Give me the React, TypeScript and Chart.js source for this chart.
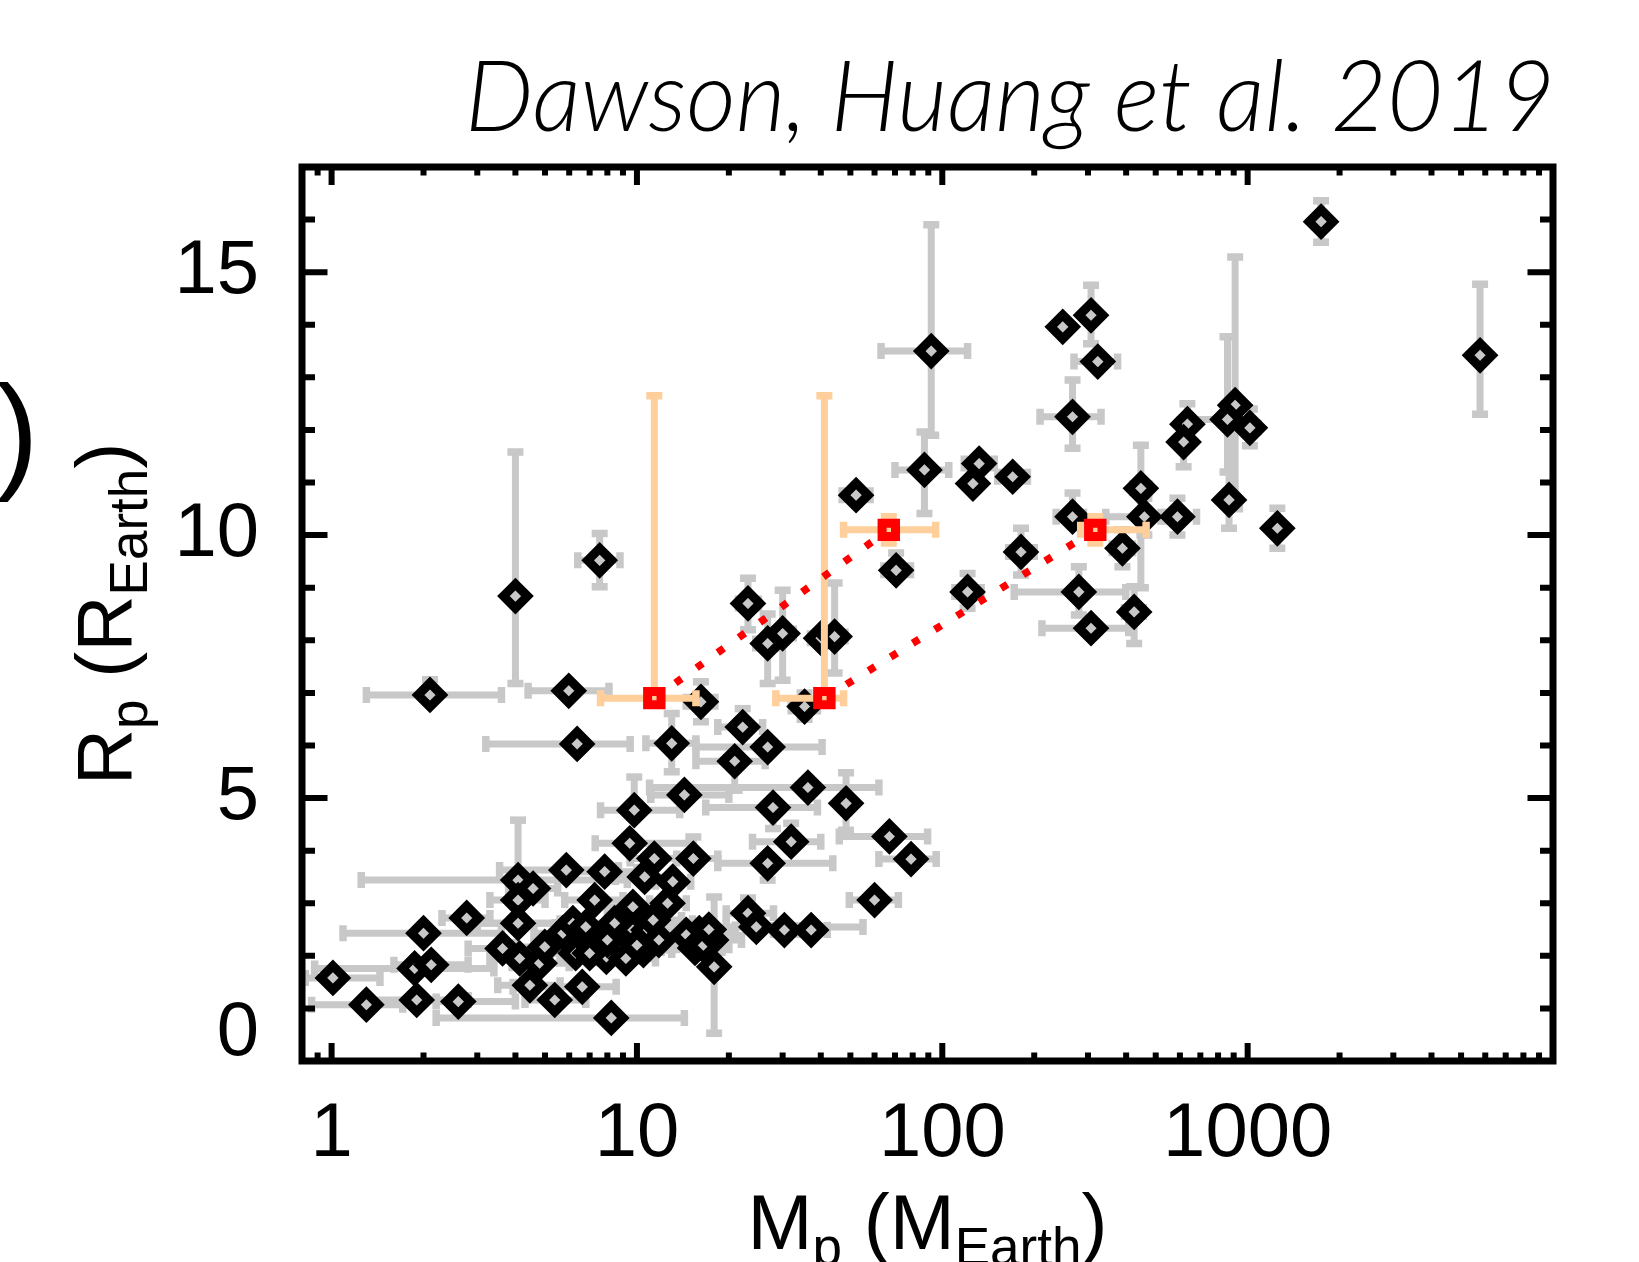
import React, { useEffect, useRef } from 'react';
import { Chart, registerables } from 'chart.js';

Chart.register(...registerables);

// ---- planet sample: mass (M_Earth), radius (R_Earth), error bar ends ----
const massVals = [1740, 5770, 92, 248, 307, 323, 267, 87.4, 132, 126, 170, 52.2, 70.6, 121, 181, 267, 280, 307, 389, 425, 447, 459, 589, 635, 617, 910, 859, 1017, 869, 1251,
  7.55, 4.0, 23.1, 26.8, 30.0, 40.1, 44.4, 35.4, 2.1, 5.98, 6.37, 16.2, 13.0, 22.2, 20.9, 26.8, 14.3, 36.3, 9.8, 27.9, 48.4, 67.1, 79.0, 32.0, 26.8, 15.3, 9.47, 60, 23.1, 24.6, 30.4, 37.2, 13.1, 12.6, 17.9, 16.0, 17.5, 14.5, 15.5, 8.24,
  1.01, 1.30, 1.90, 2.0, 1.87, 2.12, 2.6, 2.77, 4.08, 4.57, 4.08, 4.08, 3.63, 4.13, 4.46, 4.8, 4.99, 5.38, 5.72, 5.87, 6.62, 6.17, 7.27, 7.84, 11.4, 10.6, 9.7, 6.58, 7.18, 7.94, 8.45, 8.89, 9.70, 10.9, 11.3, 10.5, 6.3,
  7.0, 8.0, 9.2, 10.0, 6.8, 11.8, 16.5, 17.2];
const radiusVals = [15.96, 13.42, 13.5, 13.96, 14.18, 13.30, 12.25, 11.24, 11.36, 10.98, 11.11, 10.76, 9.33, 8.92, 9.68, 10.35, 8.92, 8.23, 9.75, 8.54, 10.89, 10.35, 10.35, 12.11, 11.77, 12.47, 12.20, 12.04, 10.67, 10.13,
  9.52, 8.84, 8.70, 7.94, 8.13, 8.04, 8.07, 6.74, 6.96, 7.04, 6.03, 6.83, 6.04, 6.35, 5.70, 5.97, 5.06, 5.20, 4.77, 4.82, 4.90, 4.27, 3.84, 4.17, 3.76, 3.85, 4.14, 3.06, 2.81, 2.55, 2.49, 2.49, 3.41, 3.00, 1.79, 2.43, 2.30, 2.40, 2.15, 0.82,
  1.58, 1.07, 1.16, 2.43, 1.76, 1.83, 1.13, 2.72, 3.44, 3.28, 3.06, 2.62, 2.14, 1.95, 1.44, 1.86, 2.17, 1.16, 2.43, 3.63, 1.41, 2.62, 3.06, 3.60, 3.85, 3.50, 2.93, 2.30, 2.40, 1.98, 2.62, 2.24, 2.49, 2.49, 2.68, 2.11, 2.05,
  2.05, 2.30, 1.95, 2.20, 2.55, 2.30, 2.20, 2.50];
const massLo = [1740, 5770, 63, 248, 307, 270, 209, 70, 118, 126, 152, 47, 64.4, 110, 165, 236, 172, 212, 360, 395, 420, 343, 540, 600, 590, 860, 640, 960, 869, 1251,
  6.4, 4.0, 21.5, 24.5, 27.5, 37, 41, 32, 1.30, 4.4, 3.2, 14.5, 10.7, 18.4, 15.6, 15.6, 11.1, 11, 7.6, 16.8, 48.4, 46, 62, 23.9, 18.4, 11.5, 7.3, 49.6, 19.6, 19.6, 28, 33, 11.5, 11, 17.9, 12, 14, 11, 12, 2.2,
  0.82, 0.86, 1.3, 1.09, 0.88, 1.6, 2.2, 2.3, 1.25, 3.8, 3.3, 3.0, 2.8, 3.3, 3.5, 3.9, 4.0, 4.3, 4.6, 3.55, 3.93, 2.73, 5.8, 6.2, 9.5, 8.5, 8.0, 5.3, 5.8, 6.3, 6.8, 7.0, 7.7, 8.7, 9.0, 8.4, 5.0,
  5.6, 6.4, 7.4, 8.0, 5.4, 9.5, 13.5, 14];
const massHi = [1740, 5770, 121, 248, 307, 375, 331, 105, 148, 126, 190, 58, 78.7, 134, 200, 290, 399, 408, 420, 455, 475, 520, 680, 670, 650, 960, 900, 1080, 869, 1251,
  8.8, 4.0, 25, 29, 32.5, 43, 48, 39, 3.60, 8.1, 9.5, 18, 15.6, 25.8, 26.3, 40.4, 20, 62, 13.8, 39.0, 48.4, 89.5, 95.5, 40.0, 43.8, 18.4, 15.2, 71.8, 28, 55, 34, 42, 15, 14.5, 17.9, 21, 22, 19, 19, 14.3,
  1.44, 1.71, 2.8, 3.6, 3.4, 2.8, 4.0, 3.3, 9.3, 5.5, 5.0, 5.6, 4.6, 5.2, 5.6, 6.0, 6.3, 6.8, 7.2, 8.7, 8.55, 15.2, 9.0, 10, 13.5, 13.0, 12.0, 8.2, 9.0, 10.0, 10.5, 11.2, 12.2, 13.5, 14, 13, 7.9,
  8.8, 10.0, 11.5, 12.5, 8.5, 14.5, 20, 21];
const radLo = [15.57, 12.3, 11.9, 13.96, 13.64, 13.30, 11.65, 10.41, 11.36, 10.98, 11.11, 10.76, 9.33, 8.61, 9.24, 10.35, 8.48, 8.23, 9.40, 7.94, 9.0, 10.0, 10.0, 11.7, 11.3, 10.5, 11.2, 11.7, 10.13, 9.75,
  9.02, 7.18, 8.2, 7.18, 7.24, 8.04, 7.38, 6.5, 6.96, 7.04, 6.03, 6.45, 5.50, 6.35, 5.15, 5.97, 5.06, 5.20, 4.77, 4.42, 4.39, 4.27, 3.84, 4.17, 3.44, 3.85, 4.14, 3.06, 2.81, 2.55, 2.49, 2.49, 3.41, 3.00, 0.53, 2.43, 2.30, 2.40, 2.15, 0.82,
  1.58, 1.07, 1.16, 2.43, 1.76, 1.83, 1.13, 2.72, 3.44, 3.28, 3.06, 2.62, 2.14, 1.95, 1.44, 1.86, 2.17, 1.16, 2.43, 3.63, 1.41, 2.62, 3.06, 3.60, 3.85, 3.50, 2.93, 2.30, 2.40, 1.98, 2.62, 2.24, 2.49, 2.49, 2.68, 2.11, 2.05,
  2.05, 2.30, 1.95, 2.20, 2.55, 2.30, 2.20, 2.50];
const radHi = [16.36, 14.77, 15.9, 13.96, 14.75, 13.30, 12.95, 11.96, 11.36, 10.98, 11.11, 10.76, 9.66, 9.27, 10.13, 10.80, 9.40, 8.23, 10.10, 9.02, 11.71, 10.7, 10.7, 12.5, 12.1, 15.29, 13.77, 12.4, 12.5, 10.51,
  10.03, 11.58, 9.18, 8.5, 8.95, 8.04, 9.09, 7.0, 7.25, 7.04, 6.03, 7.21, 6.61, 6.70, 5.70, 5.97, 5.06, 5.20, 5.4, 4.82, 5.48, 4.27, 3.84, 4.52, 3.76, 4.26, 4.14, 3.06, 3.1, 2.55, 2.49, 2.49, 3.41, 3.00, 3.12, 2.43, 2.30, 2.40, 2.15, 0.82,
  1.58, 1.07, 1.16, 2.43, 1.76, 1.83, 1.13, 2.72, 4.58, 3.28, 3.06, 2.62, 2.14, 1.95, 1.44, 1.86, 2.17, 1.16, 2.43, 3.63, 1.41, 2.62, 3.06, 3.60, 3.85, 3.50, 2.93, 2.30, 2.40, 1.98, 2.62, 2.24, 2.49, 2.49, 2.68, 2.11, 2.05,
  2.05, 2.30, 1.95, 2.20, 2.55, 2.30, 2.20, 2.50];

// ---- highlighted candidates (red squares with peach error bars) ----
const candMass = [11.4, 41.1, 66.8, 317];
const candRadius = [6.9, 6.9, 10.1, 10.1];
const candMassLo = [7.6, 28.5, 47.5, 284];
const candMassHi = [15.6, 47.5, 95.1, 465];
const candRadLo = [6.9, 6.9, 9.85, 9.85];
const candRadHi = [12.65, 12.65, 10.35, 10.35];

// ---- dotted tracks joining candidates ----
const trackAMass = [11.4, 66.8];
const trackARadius = [6.9, 10.1];
const trackBMass = [41.1, 317];
const trackBRadius = [6.9, 10.1];

// ---- axes ----
const xMin = 0.8;
const xMax = 10000;
const yMin = 0;
const yMax = 17;
const xTickVals = [1, 10, 100, 1000];
const yTickVals = [0, 5, 10, 15];

const titleText = 'Dawson, Huang et al. 2019';
const GRAY = '#c8c8c8';
const PEACH = '#fecf9a';
const FONT = '"Liberation Sans", Arial, Helvetica, sans-serif';

function drawBars(ctx: CanvasRenderingContext2D, xs: any, ys: any, m: number[], r: number[], mlo: number[], mhi: number[], rlo: number[], rhi: number[], color: string) {
  ctx.strokeStyle = color;
  ctx.lineCap = 'butt';
  const cap = 8;
  for (let i = 0; i < m.length; i++) {
    const px = xs.getPixelForValue(m[i]);
    const py = ys.getPixelForValue(r[i]);
    if (mlo[i] !== mhi[i]) {
      const x1 = xs.getPixelForValue(mlo[i]);
      const x2 = xs.getPixelForValue(mhi[i]);
      ctx.lineWidth = 7;
      ctx.beginPath(); ctx.moveTo(x1, py); ctx.lineTo(x2, py); ctx.stroke();
      ctx.lineWidth = 7.5;
      ctx.beginPath();
      ctx.moveTo(x1, py - cap); ctx.lineTo(x1, py + cap);
      ctx.moveTo(x2, py - cap); ctx.lineTo(x2, py + cap);
      ctx.stroke();
    }
    if (rlo[i] !== rhi[i]) {
      const y1 = ys.getPixelForValue(rlo[i]);
      const y2 = ys.getPixelForValue(rhi[i]);
      ctx.lineWidth = 7;
      ctx.beginPath(); ctx.moveTo(px, y1); ctx.lineTo(px, y2); ctx.stroke();
      ctx.lineWidth = 7.5;
      ctx.beginPath();
      if (rlo[i] !== r[i]) { ctx.moveTo(px - cap, y1); ctx.lineTo(px + cap, y1); }
      if (rhi[i] !== r[i]) { ctx.moveTo(px - cap, y2); ctx.lineTo(px + cap, y2); }
      ctx.stroke();
    }
  }
}

function drawRich(ctx: CanvasRenderingContext2D, parts: [string, boolean][], cx: number, baseY: number, main: number) {
  const sub = main * 0.68;
  const widths = parts.map(([t, s]) => {
    ctx.font = `${s ? sub : main}px ${FONT}`;
    return ctx.measureText(t).width;
  });
  const total = widths.reduce((a, b) => a + b, 0);
  let x = cx - total / 2;
  ctx.textAlign = 'left';
  ctx.textBaseline = 'alphabetic';
  parts.forEach(([t, s], i) => {
    ctx.font = `${s ? sub : main}px ${FONT}`;
    ctx.fillText(t, x, baseY + (s ? main * 0.2 : 0));
    x += widths[i];
  });
}

const framePlugin = {
  id: 'frameAndBars',
  beforeDatasetsDraw(chart: any) {
    const { ctx, chartArea: a, scales } = chart;
    ctx.save();
    ctx.beginPath();
    ctx.rect(a.left, a.top, a.right - a.left, a.bottom - a.top);
    ctx.clip();
    drawBars(ctx, scales.x, scales.y, massVals, radiusVals, massLo, massHi, radLo, radHi, GRAY);
    ctx.restore();
  },
  afterDatasetDraw(chart: any, args: any) {
    if (args.index !== 0) return;
    const { ctx, scales } = chart;
    ctx.save();
    drawBars(ctx, scales.x, scales.y, candMass, candRadius, candMassLo, candMassHi, candRadLo, candRadHi, PEACH);
    ctx.restore();
  },
  afterDraw(chart: any) {
    const { ctx, chartArea: a, scales } = chart;
    const xs = scales.x, ys = scales.y;
    ctx.save();
    ctx.strokeStyle = '#000';
    ctx.lineCap = 'butt';
    // inward ticks
    ctx.lineWidth = 6;
    ctx.beginPath();
    for (let d = -1; d <= 3; d++) {
      for (let k = 1; k <= 9; k++) {
        const v = k * Math.pow(10, d);
        if (v <= xMin || v >= xMax) continue;
        const px = xs.getPixelForValue(v);
        const L = k === 1 ? 18 : 8.5;
        ctx.moveTo(px, a.bottom); ctx.lineTo(px, a.bottom - L);
        ctx.moveTo(px, a.top); ctx.lineTo(px, a.top + L);
      }
    }
    for (let v = yMin + 1; v < yMax; v++) {
      const py = ys.getPixelForValue(v);
      const L = v % 5 === 0 ? 25.5 : 13;
      ctx.moveTo(a.left, py); ctx.lineTo(a.left + L, py);
      ctx.moveTo(a.right, py); ctx.lineTo(a.right - L, py);
    }
    ctx.stroke();
    // frame
    ctx.lineWidth = 7;
    ctx.strokeRect(a.left, a.top, a.right - a.left, a.bottom - a.top);

    // axis titles
    ctx.fillStyle = '#000';
    const cx = (a.left + a.right) / 2;
    drawRich(ctx, [['M', false], ['p', true], [' (M', false], ['Earth', true], [')', false]], cx, 1249, 78);
    const cy = (a.top + a.bottom) / 2;
    ctx.save();
    ctx.translate(131, cy);
    ctx.rotate(-Math.PI / 2);
    drawRich(ctx, [['R', false], ['p', true], [' (R', false], ['Earth', true], [')', false]], 0, 0, 78);
    ctx.restore();

    // title
    ctx.font = `italic 300 98px Lato, "Open Sans", sans-serif`;
    const w = ctx.measureText(titleText).width;
    const sx = 1090 / w;
    ctx.save();
    ctx.translate(1555, 131);
    ctx.scale(sx, 1);
    ctx.textAlign = 'right';
    ctx.textBaseline = 'alphabetic';
    ctx.fillText(titleText, 0, 0);
    ctx.restore();

    // fragment of neighbouring panel at the left edge
    ctx.font = `128px ${FONT}`;
    ctx.textAlign = 'left';
    ctx.fillText(')', -4, 475);
    ctx.restore();
  },
};

export default function App() {
  const ref = useRef<HTMLCanvasElement>(null);
  useEffect(() => {
    document.body.style.margin = '0';
    const planets = massVals.map((m, i) => ({ x: m, y: radiusVals[i] }));
    const cands = candMass.map((m, i) => ({ x: m, y: candRadius[i] }));
    const trackA = trackAMass.map((m, i) => ({ x: m, y: trackARadius[i] }));
    const trackB = trackBMass.map((m, i) => ({ x: m, y: trackBRadius[i] }));
    const dotted = {
      showLine: true,
      borderColor: '#ff0000',
      borderWidth: 7.5,
      borderDash: [7.5, 18.5],
      borderCapStyle: 'butt',
      pointRadius: 0,
      fill: false,
      order: 2,
    };
    const chart = new Chart(ref.current as HTMLCanvasElement, {
      type: 'scatter',
      data: {
        datasets: [
          {
            label: 'planets',
            data: planets,
            pointStyle: 'rectRot',
            pointRadius: 12,
            pointBorderWidth: 9,
            pointBorderColor: '#000',
            pointBackgroundColor: GRAY,
            borderWidth: 9,
            borderColor: '#000',
            backgroundColor: GRAY,
            order: 3,
          },
          { label: 'track A', data: trackA, ...dotted } as any,
          { label: 'track B', data: trackB, ...dotted } as any,
          {
            label: 'candidates',
            data: cands,
            pointStyle: 'rect',
            pointRadius: 9.5,
            pointBorderWidth: 9,
            pointBorderColor: '#ff0000',
            pointBackgroundColor: PEACH,
            borderWidth: 9,
            borderColor: '#ff0000',
            backgroundColor: PEACH,
            order: 1,
          },
        ],
      },
      options: {
        responsive: false,
        animation: false,
        events: [],
        layout: { padding: { left: 0, top: 167, right: 86, bottom: 0 } },
        plugins: { legend: { display: false }, tooltip: { enabled: false }, title: { display: false } },
        scales: {
          x: {
            type: 'logarithmic',
            min: xMin,
            max: xMax,
            grid: { display: false, drawTicks: false },
            border: { display: false },
            afterBuildTicks: (s: any) => { s.ticks = xTickVals.map((v) => ({ value: v })); },
            afterFit: (s: any) => { s.height = 201; },
            ticks: {
              color: '#000',
              padding: 28,
              maxRotation: 0,
              autoSkip: false,
              font: { family: FONT, size: 76 },
              callback: (v: any) => String(v),
            },
          },
          y: {
            type: 'linear',
            min: yMin,
            max: yMax,
            grid: { display: false, drawTicks: false },
            border: { display: false },
            afterBuildTicks: (s: any) => { s.ticks = yTickVals.map((v) => ({ value: v })); },
            afterFit: (s: any) => { s.width = 302; },
            ticks: {
              color: '#000',
              padding: 43,
              autoSkip: false,
              font: { family: FONT, size: 76, lineHeight: 0.7 },
              callback: (v: any) => (v === 0 ? ['0', ''] : String(v)),
            },
          },
        },
      },
      plugins: [framePlugin],
    } as any);
    return () => chart.destroy();
  }, []);
  return (
    <div style={{ position: 'absolute', left: 0, top: 0, width: 1639, height: 1262, background: '#fff' }}>
      <canvas ref={ref} width={1639} height={1262} style={{ width: 1639, height: 1262, display: 'block' }} />
    </div>
  );
}
